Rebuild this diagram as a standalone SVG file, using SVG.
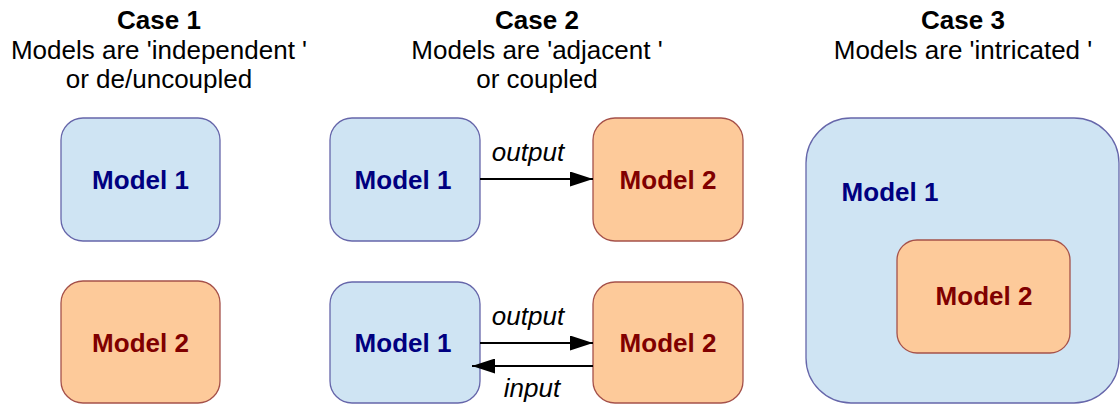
<svg xmlns="http://www.w3.org/2000/svg" width="1120" height="405" viewBox="0 0 1120 405">
<defs>
<style>
.t{font-family:"Liberation Sans",Arial,sans-serif;font-size:26px;fill:#000;text-anchor:middle}
.h{font-weight:bold}
.m1{fill:#cfe4f3;stroke:#6666aa;stroke-width:1.3}
.m2{fill:#fdca9a;stroke:#a5514a;stroke-width:1.3}
.l1{font-family:"Liberation Sans",Arial,sans-serif;font-size:26px;font-weight:bold;fill:#000080;text-anchor:middle}
.l2{font-family:"Liberation Sans",Arial,sans-serif;font-size:26px;font-weight:bold;fill:#800000;text-anchor:middle}
.e{font-family:"Liberation Sans",Arial,sans-serif;font-size:26px;font-style:italic;fill:#000;text-anchor:middle}
.c{stroke:#000;stroke-width:2;fill:none}
</style>
<marker id="ahb" markerWidth="23" markerHeight="15" refX="23" refY="7.5" orient="auto" markerUnits="userSpaceOnUse" viewBox="0 0 23 15">
<path d="M0,0 L23,7.5 L0,15 Z" fill="#000"/>
</marker>
</defs>
<rect width="1120" height="405" fill="#fff"/>
<g id="titles">
<text class="t h" x="159" y="29">Case 1</text>
<text class="t" x="159" y="59">Models are 'independent '</text>
<text class="t" x="159" y="88">or de/uncoupled</text>
<text class="t h" x="537" y="29">Case 2</text>
<text class="t" x="537" y="59">Models are 'adjacent '</text>
<text class="t" x="537" y="88">or coupled</text>
<text class="t h" x="963" y="29">Case 3</text>
<text class="t" x="963" y="59">Models are 'intricated '</text>
</g>
<g id="c1m1"><rect class="m1" x="61" y="118" width="159" height="123" rx="22"/><text class="l1" x="140.5" y="189">Model 1</text></g>
<g id="c1m2"><rect class="m2" x="61" y="281" width="159" height="122" rx="22"/><text class="l2" x="140.5" y="352">Model 2</text></g>
<g id="c2m1a"><rect class="m1" x="330" y="118" width="150" height="123" rx="22"/><text class="l1" x="403" y="189">Model 1</text></g>
<g id="c2m2a"><rect class="m2" x="593" y="118" width="150" height="123" rx="22"/><text class="l2" x="668" y="189">Model 2</text></g>
<g id="c2m1b"><rect class="m1" x="330" y="282" width="150" height="121" rx="22"/><text class="l1" x="403" y="352">Model 1</text></g>
<g id="c2m2b"><rect class="m2" x="593" y="282" width="150" height="121" rx="22"/><text class="l2" x="668" y="352">Model 2</text></g>
<g id="c3m1"><rect class="m1" x="806" y="118" width="313" height="285" rx="45"/><text class="l1" x="890" y="201">Model 1</text></g>
<g id="c3m2"><rect class="m2" x="897" y="240" width="173" height="113" rx="20"/><text class="l2" x="984" y="305">Model 2</text></g>
<g id="connectors">
<line class="c" x1="480" y1="179" x2="593" y2="179" marker-end="url(#ahb)"/>
<text class="e" x="528" y="161">output</text>
<line class="c" x1="480" y1="343" x2="593" y2="343" marker-end="url(#ahb)"/>
<text class="e" x="528" y="325">output</text>
<line class="c" x1="593" y1="366" x2="472" y2="366" marker-end="url(#ahb)"/>
<text class="e" x="532" y="397">input</text>
</g>
</svg>
